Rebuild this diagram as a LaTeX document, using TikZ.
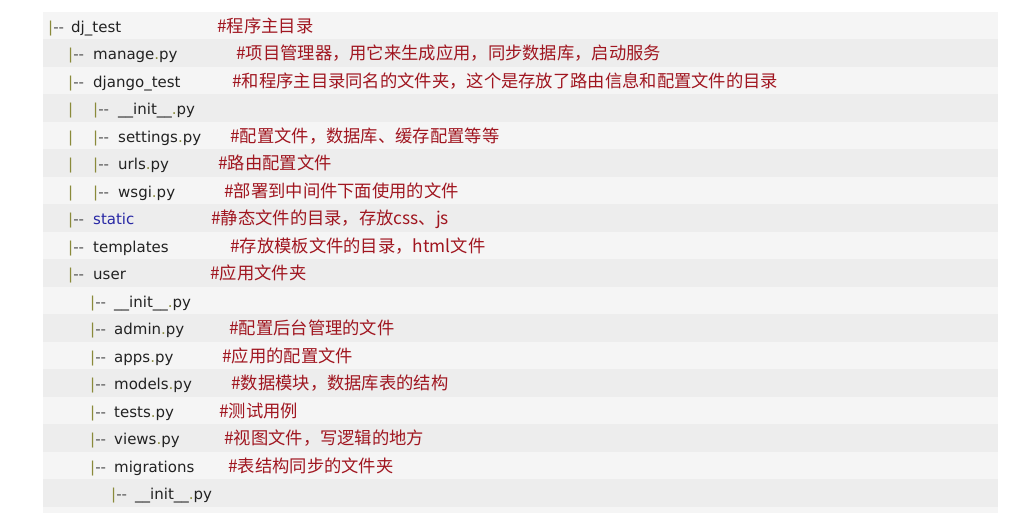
\documentclass[tikz,border=0pt]{standalone}
\usepackage{fontspec}
\setmainfont{DejaVu Sans}
\newfontfamily\cjk{Noto Sans CJK SC}
\definecolor{pipec}{RGB}{138,138,58}
\definecolor{dashc}{RGB}{80,80,80}
\definecolor{textc}{RGB}{34,34,34}
\definecolor{cmtc}{RGB}{160,22,32}
\definecolor{bluec}{RGB}{40,40,165}
\definecolor{rowlight}{HTML}{F5F5F5}
\definecolor{rowdark}{HTML}{EDEDED}
\newcommand\dotpy[1]{#1\textcolor{pipec}{.}py}
\newcommand\brn{\textcolor{pipec}{|}\textcolor{dashc}{-{}-}}
\begin{document}
\begin{tikzpicture}[x=1pt,y=-1pt,
  txt/.style={anchor=base west, inner sep=0pt, font=\fontsize{15}{18}\selectfont, text=textc},
  cmt/.style={anchor=base west, inner sep=0pt, font=\cjk\fontsize{17.3}{20}\selectfont, text=cmtc}]
\useasboundingbox[fill=white] (0,0) rectangle (1018,518);
\fill[rowlight] (43,12) rectangle (998,513);
\foreach \i in {1,3,...,17} \fill[rowdark] (43,{12+27.5*\i}) rectangle (998,{12+27.5*\i+27.5});
% row 0
\node[txt] (b0) at (48,32.25) {\brn};
\node[txt] (n0) at (71,32.25) {dj\_test};
\node[cmt] (c0) at (217,32.25) {\#程序主目录};
% row 1
\node[txt] (b1) at (68,59.75) {\brn};
\node[txt] (n1) at (93,59.75) {\dotpy{manage}};
\node[cmt] (c1) at (236,59.75) {\#项目管理器，用它来生成应用，同步数据库，启动服务};
% row 2
\node[txt] (b2) at (68,87.25) {\brn};
\node[txt] (n2) at (93,87.25) {django\_test};
\node[cmt] (c2) at (232,87.25) {\#和程序主目录同名的文件夹，这个是存放了路由信息和配置文件的目录};
% row 3
\node[txt] (v3) at (68,114.75) {\textcolor{pipec}{|}};
\node[txt] (b3) at (93,114.75) {\brn};
\node[txt] (n3) at (118,114.75) {\dotpy{\_\_init\_\_}};
% row 4
\node[txt] (v4) at (68,142.25) {\textcolor{pipec}{|}};
\node[txt] (b4) at (93,142.25) {\brn};
\node[txt] (n4) at (118,142.25) {\dotpy{settings}};
\node[cmt] (c4) at (230,142.25) {\#配置文件，数据库、缓存配置等等};
% row 5
\node[txt] (v5) at (68,169.75) {\textcolor{pipec}{|}};
\node[txt] (b5) at (93,169.75) {\brn};
\node[txt] (n5) at (118,169.75) {\dotpy{urls}};
\node[cmt] (c5) at (218,169.75) {\#路由配置文件};
% row 6
\node[txt] (v6) at (68,197.25) {\textcolor{pipec}{|}};
\node[txt] (b6) at (93,197.25) {\brn};
\node[txt] (n6) at (118,197.25) {\dotpy{wsgi}};
\node[cmt] (c6) at (224,197.25) {\#部署到中间件下面使用的文件};
% row 7
\node[txt] (b7) at (68,224.75) {\brn};
\node[txt, text=bluec] (n7) at (93,224.75) {static};
\node[cmt] (c7) at (211,224.75) {\#静态文件的目录，存放css、js};
% row 8
\node[txt] (b8) at (68,252.25) {\brn};
\node[txt] (n8) at (93,252.25) {templates};
\node[cmt] (c8) at (230,252.25) {\#存放模板文件的目录，html文件};
% row 9
\node[txt] (b9) at (68,279.75) {\brn};
\node[txt] (n9) at (93,279.75) {user};
\node[cmt] (c9) at (210,279.75) {\#应用文件夹};
% row 10
\node[txt] (b10) at (90,307.25) {\brn};
\node[txt] (n10) at (114,307.25) {\dotpy{\_\_init\_\_}};
% row 11
\node[txt] (b11) at (90,334.75) {\brn};
\node[txt] (n11) at (114,334.75) {\dotpy{admin}};
\node[cmt] (c11) at (229,334.75) {\#配置后台管理的文件};
% row 12
\node[txt] (b12) at (90,362.25) {\brn};
\node[txt] (n12) at (114,362.25) {\dotpy{apps}};
\node[cmt] (c12) at (222,362.25) {\#应用的配置文件};
% row 13
\node[txt] (b13) at (90,389.75) {\brn};
\node[txt] (n13) at (114,389.75) {\dotpy{models}};
\node[cmt] (c13) at (231,389.75) {\#数据模块，数据库表的结构};
% row 14
\node[txt] (b14) at (90,417.25) {\brn};
\node[txt] (n14) at (114,417.25) {\dotpy{tests}};
\node[cmt] (c14) at (219,417.25) {\#测试用例};
% row 15
\node[txt] (b15) at (90,444.75) {\brn};
\node[txt] (n15) at (114,444.75) {\dotpy{views}};
\node[cmt] (c15) at (224,444.75) {\#视图文件，写逻辑的地方};
% row 16
\node[txt] (b16) at (90,472.25) {\brn};
\node[txt] (n16) at (114,472.25) {migrations};
\node[cmt] (c16) at (228,472.25) {\#表结构同步的文件夹};
% row 17
\node[txt] (b17) at (111,499.75) {\brn};
\node[txt] (n17) at (135,499.75) {\dotpy{\_\_init\_\_}};
\end{tikzpicture}
\end{document}
